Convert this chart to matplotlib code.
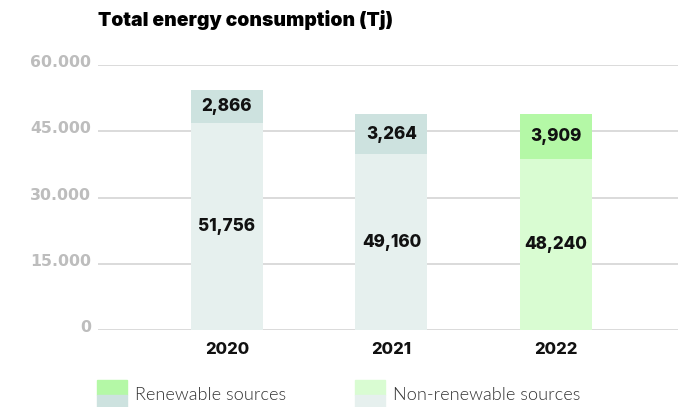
import matplotlib
matplotlib.use('Agg')
import matplotlib.pyplot as plt
from matplotlib.patches import Rectangle
from matplotlib.transforms import ScaledTranslation

# values printed on the bars (Tj)
years = ['2020', '2021', '2022']
renewable = [2866, 3264, 3909]
non_renewable = [51756, 49160, 48240]

# segment heights as they are drawn in the original graphic (not to scale with the labels)
non_renewable_drawn = [46900, 39800, 38700]
renewable_drawn = [7400, 9100, 10200]

y_ticks = [0, 15000, 30000, 45000, 60000]
y_tick_labels = ['0', '15.000', '30.000', '45.000', '60.000']

renew_col = ['#cde2df', '#cde2df', '#b4f8a6']
nonrenew_col = ['#e6f0ee', '#e6f0ee', '#d9fcd2']

bold_font = 'Inter'

W, H = 678, 407
fig = plt.figure(figsize=(W / 100, H / 100), dpi=100)
ax = fig.add_axes([98 / W, (H - 330) / H, 1 - 98 / W, 265 / H])

x = list(range(len(years)))
ax.bar(x, non_renewable_drawn, width=0.438, color=nonrenew_col, zorder=2)
ax.bar(x, renewable_drawn, width=0.438, bottom=non_renewable_drawn, color=renew_col, zorder=2)

for i in x:
    ax.text(i, non_renewable_drawn[i] / 2, f'{non_renewable[i]:,}', ha='center', va='center',
            fontsize=12.3, fontweight=800, family=bold_font, color='#111111', zorder=3)
    ax.text(i, non_renewable_drawn[i] + renewable_drawn[i] / 2, f'{renewable[i]:,}', ha='center',
            va='center', fontsize=12.3, fontweight=800, family=bold_font, color='#111111', zorder=3)
    ax.text(i, -19 / 265, years[i], transform=ax.get_xaxis_transform(), ha='center', va='center',
            fontsize=12, fontweight=800, family=bold_font, color='#111111')

ax.set_xlim(-0.784, 2.742)
ax.set_ylim(0, 60000)
ax.set_xticks([])
ax.set_yticks(y_ticks)
ax.set_yticklabels(y_tick_labels)
ax.tick_params(axis='y', length=0, pad=5, labelsize=11.3, labelcolor='#bdbdbd')
for lab in ax.get_yticklabels():
    lab.set_fontweight('bold')
    lab.set_family('DejaVu Sans')
    lab.set_transform(lab.get_transform() + ScaledTranslation(0, 4 / 100, fig.dpi_scale_trans))
for t in y_ticks:
    ax.axhline(t, color='#d4d4d4', lw=1.2, zorder=1)
for s in ax.spines.values():
    s.set_visible(False)

fig.text(98 / W, 1 - 20 / H, 'Total energy consumption (Tj)', ha='left', va='center',
         fontsize=13.9, fontweight=900, family=bold_font, color='#000000')

# legend: each swatch shows both colour variants
legend_items = [('Renewable sources', '#b4f8a6', '#cde2df', 97),
                ('Non-renewable sources', '#d9fcd2', '#e6f0ee', 355)]
for label, top_c, bot_c, px in legend_items:
    fig.patches.append(Rectangle((px / W, (H - 395) / H), 30 / W, 15 / H, color=top_c,
                                 transform=fig.transFigure))
    fig.patches.append(Rectangle((px / W, (H - 410) / H), 30 / W, 15 / H, color=bot_c,
                                 transform=fig.transFigure))
    fig.text((px + 38) / W, 1 - 395 / H, label, ha='left', va='center', fontsize=13.1,
             fontweight=300, family='Lato', color='#333333')

fig.savefig('out.png', dpi=100)
